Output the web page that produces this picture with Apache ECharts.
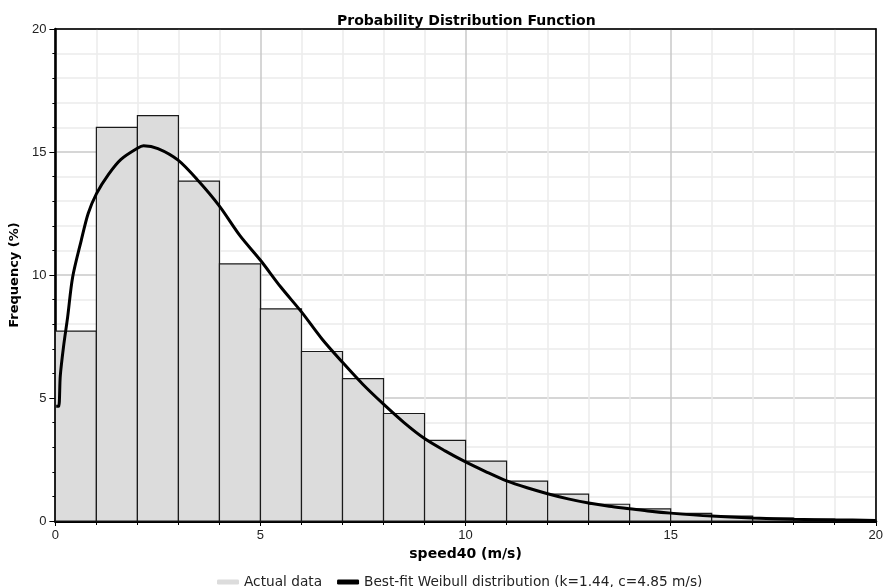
<!DOCTYPE html>
<html>
<head>
<meta charset="utf-8">
<script src="https://cdn.jsdelivr.net/npm/echarts@6/dist/echarts.min.js"></script>
<style>
  html, body { margin: 0; padding: 0; background: #fff; }
  #container { width: 886px; height: 587px; }
</style>
</head>
<body>
<div id="container"></div>
<script>
// histogram bins (m/s) and frequency (%)
const binStarts = [0, 1, 2, 3, 4, 5, 6, 7, 8, 9, 10, 11, 12, 13, 14, 15, 16, 17, 18, 19];
const binEnds = [1, 2, 3, 4, 5, 6, 7, 8, 9, 10, 11, 12, 13, 14, 15, 16, 17, 18, 19, 20];
const frequency = [7.72, 16.0, 16.48, 13.82, 10.45, 8.62, 6.89, 5.79, 4.37, 3.28,
  2.43, 1.62, 1.09, 0.68, 0.49, 0.31, 0.2, 0.12, 0.08, 0.05];

// best-fit curve
const fitX = [0.02, 0.08, 0.12, 0.2, 0.3, 0.42, 0.63, 0.8, 1.0, 1.3, 1.6, 2.0, 2.15, 2.5,
  3.0, 3.5, 4.0, 4.5, 5.0, 5.5, 6.0, 6.5, 7.0, 7.5, 8.0, 8.5, 9.0, 9.5, 10.0, 10.5,
  11.0, 11.5, 12.0, 12.5, 13.0, 13.5, 14.0, 14.5, 15.0, 16.0, 17.0, 18.0, 19.0, 20.0];
const fitY = [4.66, 4.66, 5.9, 7.1, 8.3, 9.9, 11.4, 12.5, 13.3, 14.1, 14.7, 15.15, 15.25, 15.14,
  14.66, 13.8, 12.8, 11.6, 10.6, 9.5, 8.5, 7.4, 6.45, 5.55, 4.75, 4.0, 3.35, 2.85, 2.4, 2.0,
  1.63, 1.35, 1.11, 0.9, 0.73, 0.6, 0.5, 0.4, 0.32, 0.2, 0.12, 0.07, 0.045, 0.025];

const seriesNames = ["Actual data", "Best-fit Weibull distribution (k=1.44, c=4.85 m/s)"];

const font = "Liberation Sans, Arial, sans-serif";
const wideFont = "DejaVu Sans, Verdana, sans-serif";

const bins = binStarts.map((s, i) => [s, binEnds[i], frequency[i]]);
const fit = fitX.map((x, i) => [x, fitY[i]]);

const chart = echarts.init(document.getElementById("container"));

// plain frame axes for the top / right border
const frameAxis = {
  type: "value",
  min: 0,
  max: 20,
  interval: 5,
  axisLine: { show: true, onZero: false, lineStyle: { color: "#000", width: 1.5 } },
  axisTick: { show: false },
  axisLabel: { show: false },
  splitLine: { show: false },
};

const option = {
  animation: false,
  backgroundColor: "#fff",
  title: {
    text: "Probability Distribution Function",
    left: 332,
    top: 9,
    textStyle: { fontFamily: wideFont, fontSize: 14, fontWeight: "bold", color: "#000" },
  },
  legend: {
    left: 212,
    top: 570,
    itemWidth: 22,
    itemHeight: 5,
    itemGap: 15,
    textStyle: { fontFamily: wideFont, fontSize: 13.7, color: "#222" },
    data: [
      { name: seriesNames[0], icon: "roundRect" },
      { name: seriesNames[1], icon: "roundRect" },
    ],
  },
  grid: {
    left: 54,
    right: 8,
    top: 29,
    bottom: 66,
    show: true,
    borderColor: "#000",
    borderWidth: 1.5,
    backgroundColor: "#fff",
  },
  xAxis: [
    {
      type: "value",
      min: 0,
      max: 20,
      interval: 5,
      name: "speed40 (m/s)",
      nameLocation: "middle",
      nameGap: 25,
      nameTextStyle: { fontFamily: wideFont, fontSize: 14, fontWeight: "bold", color: "#000" },
      axisLine: { show: true, onZero: false, lineStyle: { color: "#000", width: 3 } },
      axisTick: { show: true, length: 5, lineStyle: { color: "#000" } },
      minorTick: { show: true, splitNumber: 5, length: 4, lineStyle: { color: "#000" } },
      axisLabel: { fontFamily: font, fontSize: 13, color: "#222", margin: 8 },
      splitLine: { show: true, lineStyle: { color: "#c8c8c8", width: 1.5 } },
      minorSplitLine: { show: true, lineStyle: { color: "#ececec", width: 1.5 } },
    },
    Object.assign({ position: "top" }, frameAxis),
  ],
  yAxis: [
    {
      type: "value",
      min: 0,
      max: 20,
      interval: 5,
      name: "Frequency (%)",
      nameLocation: "middle",
      nameGap: 30,
      nameTextStyle: { fontFamily: wideFont, fontSize: 13, fontWeight: "bold", color: "#000" },
      axisLine: { show: true, onZero: false, lineStyle: { color: "#000", width: 2.5 } },
      axisTick: { show: true, length: 6, lineStyle: { color: "#000" } },
      minorTick: { show: true, splitNumber: 5, length: 3, lineStyle: { color: "#000" } },
      axisLabel: { fontFamily: font, fontSize: 13, color: "#222", margin: 9 },
      splitLine: { show: true, lineStyle: { color: "#c8c8c8", width: 1.5 } },
      minorSplitLine: { show: true, lineStyle: { color: "#ececec", width: 1.5 } },
    },
    Object.assign({ position: "right" }, frameAxis),
  ],
  series: [
    {
      name: seriesNames[0],
      type: "custom",
      data: bins,
      encode: { x: [0, 1], y: 2 },
      itemStyle: { color: "#dcdcdc" },
      renderItem: function (params, api) {
        const topLeft = api.coord([api.value(0), api.value(2)]);
        const bottomRight = api.coord([api.value(1), 0]);
        return {
          type: "rect",
          shape: {
            x: topLeft[0],
            y: topLeft[1],
            width: bottomRight[0] - topLeft[0],
            height: bottomRight[1] - topLeft[1],
          },
          style: { fill: "#dcdcdc", stroke: "#1a1a1a", lineWidth: 1.2 },
        };
      },
      z: 2,
    },
    {
      name: seriesNames[1],
      type: "line",
      data: fit,
      showSymbol: false,
      smooth: 0.3,
      itemStyle: { color: "#000" },
      lineStyle: { color: "#000", width: 3 },
      z: 3,
    },
  ],
};

chart.setOption(option);
</script>
</body>
</html>
